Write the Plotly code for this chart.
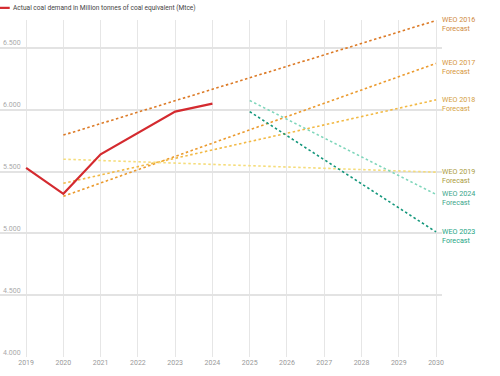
import plotly.graph_objects as go

years_actual = [2019, 2020, 2021, 2022, 2023, 2024]
actual = [5530, 5320, 5640, 5810, 5985, 6050]

forecast_names = ["WEO 2016", "WEO 2017", "WEO 2018", "WEO 2019", "WEO 2024", "WEO 2023"]
forecast_years = [[2020, 2030], [2020, 2030], [2020, 2030], [2020, 2030], [2025, 2030], [2025, 2030]]
forecast_values = [[5795, 6722], [5300, 6375], [5405, 6080], [5600, 5495], [6075, 5315], [5985, 5012]]
forecast_colors = ["#dc7a26", "#eb9a2e", "#f2b945", "#f5dc7a", "#7fd6bb", "#14977c"]
label_colors = ["#cf8a3e", "#d6963c", "#d4a042", "#aa9b3e", "#3aa58a", "#26a585"]

x_ticks = list(range(2019, 2031))
y_ticks = [4000, 4500, 5000, 5500, 6000, 6500]

fig = go.Figure()
for name, xs, ys, c in zip(forecast_names, forecast_years, forecast_values, forecast_colors):
    fig.add_trace(go.Scatter(x=xs, y=ys, mode="lines", name=name,
                             line=dict(color=c, width=1.6, dash="2.5px,2.5px"),
                             showlegend=False, hoverinfo="skip", cliponaxis=False))
fig.add_trace(go.Scatter(x=years_actual, y=actual, mode="lines",
                         name="Actual coal demand in Million tonnes of coal equivalent (Mtce)",
                         line=dict(color="#d42a2f", width=2.2), showlegend=False))

for name, xs, ys, c in zip(forecast_names, forecast_years, forecast_values, label_colors):
    fig.add_annotation(x=xs[-1], y=ys[-1], xref="x", yref="y", text=name + "<br>Forecast",
                       showarrow=False, xanchor="left", yanchor="middle", xshift=4, yshift=-4,
                       align="left", font=dict(size=7.2, color=c))

# legend
fig.add_shape(type="line", xref="paper", yref="paper", x0=0, x1=0.022, y0=1.036, y1=1.036,
              line=dict(color="#d42a2f", width=2.2))
fig.add_annotation(xref="paper", yref="paper", x=0.026, y=1.036, xanchor="left", yanchor="middle",
                   text="Actual coal demand in Million tonnes of coal equivalent (Mtce)",
                   showarrow=False, font=dict(size=6.6, color="#444"))

fig.update_layout(
    width=500, height=376,
    margin=dict(l=0, r=58, t=20, b=19),
    paper_bgcolor="white", plot_bgcolor="white",
    separators=",.",
    font=dict(family="Roboto", size=7, color="#999"),
    showlegend=False,
    xaxis=dict(range=[2018.30, 2030.16], tickvals=x_ticks, showgrid=True, gridcolor="#e6e6e6",
               gridwidth=1.2, zeroline=False, showline=False, ticks="",
               tickfont=dict(size=7, color="#999")),
    yaxis=dict(range=[4000, 6726], tickvals=y_ticks, tickformat=",", showgrid=True,
               gridcolor="#e3e3e3", gridwidth=1.5, zeroline=False, ticklabelposition="inside top",
               tickfont=dict(size=7, color="#aaa"), ticks=""),
)
fig.write_html("out.html", config={"displayModeBar": False},
               post_script="document.body.style.margin='0';document.body.style.padding='0';")
